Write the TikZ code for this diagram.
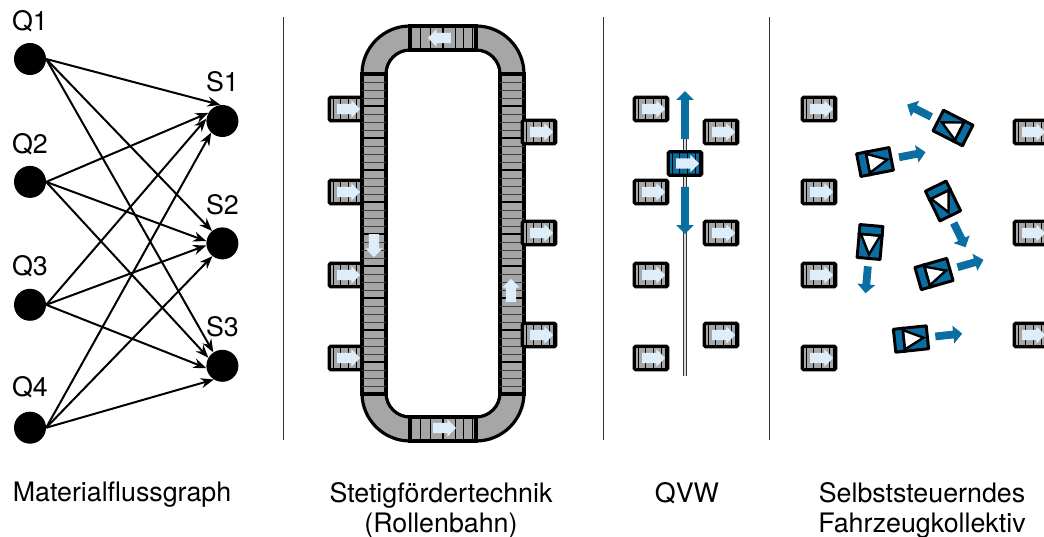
\documentclass[tikz,border=0pt]{standalone}
\usepackage{fontspec}
\setmainfont{TeX Gyre Heros}
\definecolor{rollGrey}{HTML}{A6A6A6}
\definecolor{lightArrow}{HTML}{DDEDF9}
\definecolor{fleetBlue}{HTML}{0A6EA3}
\definecolor{ruleGrey}{HTML}{333333}
\usepackage{tikz}
\usetikzlibrary{arrows.meta,positioning,calc,shapes.arrows}

\newcommand{\stub}[2]{%
  \node[stubbox] (#1) at (#2) {};
  \node[lightarrow] (#1a) at (#1) {};
}
\newcommand{\vehicle}[3]{%
  \node[carbody,rotate=#3] (#1) at (#2) {};
  \coordinate (#1n) at ($(#1.north west)!.3!(#1.north east)$);
  \coordinate (#1s) at ($(#1.south west)!.3!(#1.south east)$);
  \coordinate (#1m) at ($(#1n)!.5!(#1s)$);
  \draw[carline,fill=white,line join=miter] ($(#1m)!.75!(#1n)$) -- ($(#1.west)!.85!(#1.east)$) -- ($(#1m)!.75!(#1s)$) -- cycle;
  \draw[carline] (#1n) -- (#1s);
  \node[bluearrow,rotate=#3] (#1a) at ([shift={(#3:36pt)}]#1.center) {};
}

\begin{document}
\begin{tikzpicture}[
  x=1pt,y=-1pt,
  station/.style={circle,fill=black,inner sep=0pt,minimum size=32pt},
  tag/.style={font=\fontsize{26.8}{30}\selectfont,inner sep=0pt,align=center},
  flow/.style={-{Stealth[length=13pt,width=10pt]},line width=2pt},
  rule/.style={ruleGrey,line width=1pt},
  belt/.style={draw=black,fill=rollGrey,line width=3.2pt},
  roller/.style={black,line width=1pt},
  striproller/.style={black!75,line width=0.8pt},
  joint/.style={black,line width=2.8pt},
  stubbox/.style={draw=black,fill=rollGrey,line width=3.4pt,rounded corners=1.5pt,
                  minimum width=33.5pt,minimum height=23.5pt,inner sep=0pt,
                  path picture={\foreach \dx in {-12.5,-5.5,2.5,10,14}
                    \draw[roller] ([xshift=\dx pt]path picture bounding box.north)
                               -- ([xshift=\dx pt]path picture bounding box.south);}},
  lightarrow/.style={single arrow,fill=lightArrow,inner xsep=0pt,inner ysep=5pt,
                     minimum height=23pt,single arrow head extend=3.5pt},
  bluearrow/.style={single arrow,fill=fleetBlue,inner xsep=0pt,inner ysep=3.7pt,
                    minimum height=27pt,single arrow head extend=5pt},
  carbody/.style={draw=black,fill=fleetBlue,line width=3pt,rounded corners=0.5pt,
                  minimum width=33pt,minimum height=23pt,inner sep=0pt},
  carline/.style={black,line width=2.4pt}
]
  \path[use as bounding box,clip] (0,0) rectangle (1044,537);

  % ── Materialflussgraph ────────────────────────────────────────────────────
  \node[station] (Q1) at (30,59) {};
  \node[station,below=90.5pt of Q1] (Q2) {};
  \node[station,below=90.5pt of Q2] (Q3) {};
  \node[station,below=90.5pt of Q3] (Q4) {};
  \node[station,right=160pt of Q1,yshift=-62pt] (S1) {};
  \node[station,below=90pt of S1] (S2) {};
  \node[station,below=90pt of S2] (S3) {};

  \node[tag,above=11pt of Q1] (Q1t) {Q1};
  \node[tag,above=11pt of Q2] (Q2t) {Q2};
  \node[tag,above=11pt of Q3] (Q3t) {Q3};
  \node[tag,above=13pt of Q4] (Q4t) {Q4};
  \node[tag,above=12.5pt of S1] (S1t) {S1};
  \node[tag,above=12.5pt of S2] (S2t) {S2};
  \node[tag,above=12.5pt of S3] (S3t) {S3};

  \foreach \src/\dst/\ang in {Q1/S1/97,Q1/S2/130,Q1/S3/124,
                              Q2/S1/150,Q2/S2/172,Q2/S3/150,
                              Q3/S1/172,Q3/S2/187,Q3/S3/188,
                              Q4/S1/226,Q4/S2/232,Q4/S3/238}
    \draw[flow] (\src.east) -- (\dst.\ang);

  \coordinate (r1t) at (283,17);  \coordinate (r1b) at (283,440);
  \coordinate (r2t) at (603,17);  \coordinate (r2b) at (603,440);
  \coordinate (r3t) at (769,17);  \coordinate (r3b) at (769,440);
  \draw[rule] (r1t)--(r1b); \draw[rule] (r2t)--(r2b); \draw[rule] (r3t)--(r3b);

  % ── Rollenbahn ────────────────────────────────────────────────────────────
  \stub{conA}{346,109} \stub{conB}{346,192} \stub{conC}{346,275} \stub{conD}{346,358}

  \draw[belt,rounded corners=48pt] (362,26) rectangle (524,441);
  \draw[belt,fill=white,rounded corners=24pt] (386,50) rectangle (500,417);

  \foreach \xa/\xb in {362/386,500/524} {
    \fill[rollGrey] (\xa,74) rectangle (\xb,394);
    \draw[belt,fill=none] (\xa,74) rectangle (\xb,394);
    \foreach \k in {0,...,9} {
      \foreach \dy in {8,16,24}
        \draw[striproller] (\xa,74+32*\k+\dy) -- (\xb,74+32*\k+\dy);
      \draw[joint] (\xa,106+32*\k) -- (\xb,106+32*\k);
    }
  }
  \foreach \ya/\yb in {26/50,417/441} {
    \draw[belt] (410,\ya) rectangle (476,\yb);
    \foreach \xr in {420,430,455,463,472}
      \draw[roller] (\xr,\ya) -- (\xr,\yb);
    \draw[joint] (443,\ya) -- (443,\yb);
  }

  \stub{conE}{539,132} \stub{conF}{539,233} \stub{conG}{539,335}

  \node[lightarrow,rotate=180]  (flowTop)   at (442,38)  {};
  \node[lightarrow]             (flowBot)   at (442,428) {};
  \node[lightarrow,rotate=-90]  (flowLeft)  at (374,243) {};
  \node[lightarrow,rotate=90]   (flowRight) at (511,293) {};

  % ── QVW ───────────────────────────────────────────────────────────────────
  \coordinate (railt) at (685,93); \coordinate (railb) at (685,376);
  \draw[draw=ruleGrey,double=white!85!black,line width=0.8pt,double distance=1.6pt] (railt)--(railb);

  \stub{qvwA}{651,109} \stub{qvwB}{651,192} \stub{qvwC}{651,275} \stub{qvwD}{651,358}
  \stub{qvwE}{721,132} \stub{qvwF}{721,233} \stub{qvwG}{721,335}

  \node[stubbox,fill=fleetBlue] (shuttle) at (685,163.5) {};
  \node[lightarrow] (shuttlea) at (shuttle) {};
  \node[bluearrow,rotate=90,minimum height=48pt] (qvwUp) at (685,117) {};
  \node[bluearrow,rotate=-90,minimum height=47pt] (qvwDown) at (685,208.5) {};

  % ── Fahrzeugkollektiv ─────────────────────────────────────────────────────
  \stub{agvA}{819,109} \stub{agvB}{819,192} \stub{agvC}{819,275} \stub{agvD}{819,358}
  \stub{agvE}{1031,132} \stub{agvF}{1031,233} \stub{agvG}{1031,335}

  \vehicle{carA}{875,162}{11}
  \vehicle{carB}{953,128}{153}
  \vehicle{carC}{943,201}{-64}
  \vehicle{carD}{870,242}{-95}
  \vehicle{carE}{934,274}{16}
  \vehicle{carF}{911,339}{6}

  % ── Captions ──────────────────────────────────────────────────────────────
  \node[tag,anchor=north] (capA) at (122,482) {Materialflussgraph};
  \node[tag,anchor=north] (capB) at (441,482) {Stetigfördertechnik\\(Rollenbahn)};
  \node[tag,anchor=north] (capC) at (687,482) {QVW};
  \node[tag,anchor=north] (capD) at (922,482) {Selbststeuerndes\\Fahrzeugkollektiv};
\end{tikzpicture}
\end{document}
